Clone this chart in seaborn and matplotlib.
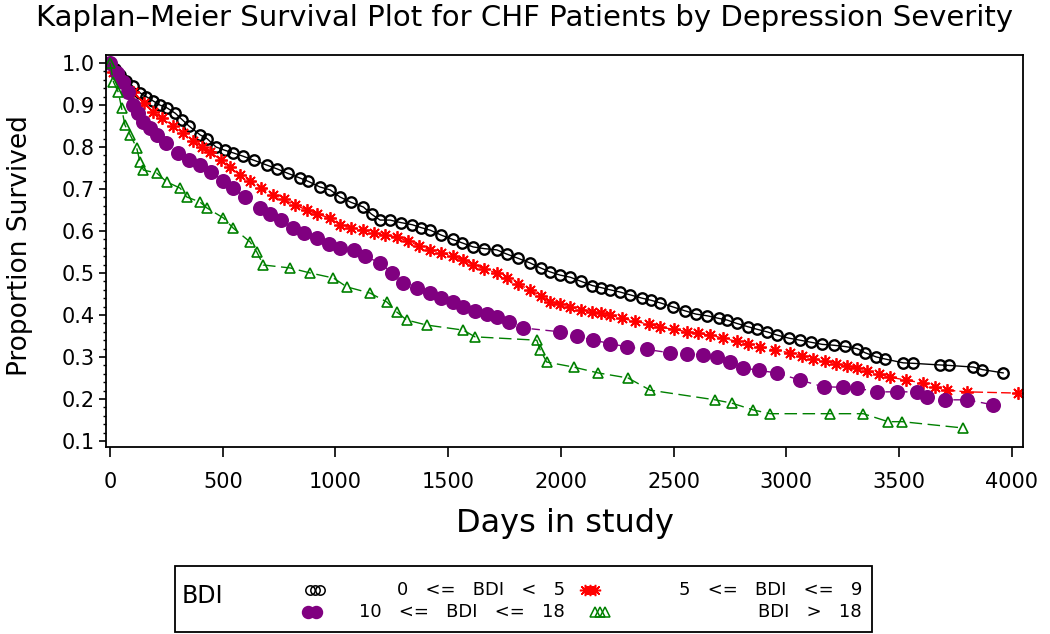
import numpy as np
import pandas as pd
import matplotlib
matplotlib.use("Agg")
import matplotlib.pyplot as plt
import seaborn as sns
from matplotlib.lines import Line2D
from matplotlib.patches import Rectangle
from matplotlib.ticker import MultipleLocator

sns.set_style("ticks")
plt.rcParams['font.family'] = ['DejaVu Sans']
plt.rcParams['text.color'] = 'black'
plt.rcParams['axes.labelcolor'] = 'black'
plt.rcParams['xtick.color'] = 'black'
plt.rcParams['ytick.color'] = 'black'

# Kaplan-Meier curves (days, proportion surviving)
black_days = [0, 20, 44, 70, 100, 133, 160, 190, 220, 253, 290, 320, 350, 399, 430, 470, 510,
              546, 590, 640, 695, 740, 790, 843, 880, 930, 976, 1020, 1070, 1124, 1160, 1198,
              1242, 1290, 1340, 1380, 1420, 1470, 1520, 1560, 1611, 1660, 1716, 1760, 1810,
              1863, 1910, 1950, 1996, 2041, 2090, 2140, 2180, 2218, 2260, 2307, 2360, 2400,
              2440, 2498, 2550, 2600, 2650, 2700, 2737, 2780, 2830, 2870, 2914, 2960, 3010,
              3061, 3110, 3160, 3210, 3260, 3314, 3350, 3400, 3440, 3519, 3560, 3683, 3720,
              3829, 3870, 3963]
black_surv = [1.0, 0.985, 0.971, 0.958, 0.945, 0.929, 0.92, 0.91, 0.90, 0.893, 0.88, 0.865,
              0.85, 0.829, 0.82, 0.80, 0.792, 0.786, 0.778, 0.768, 0.757, 0.748, 0.737, 0.726,
              0.718, 0.705, 0.698, 0.681, 0.668, 0.657, 0.64, 0.626, 0.626, 0.62, 0.615, 0.608,
              0.602, 0.59, 0.58, 0.572, 0.562, 0.558, 0.555, 0.545, 0.535, 0.524, 0.512, 0.503,
              0.495, 0.49, 0.48, 0.47, 0.465, 0.46, 0.455, 0.448, 0.44, 0.435, 0.429, 0.419,
              0.41, 0.402, 0.398, 0.392, 0.388, 0.38, 0.372, 0.366, 0.36, 0.352, 0.345, 0.34,
              0.335, 0.33, 0.328, 0.325, 0.32, 0.31, 0.30, 0.295, 0.286, 0.285, 0.281, 0.28,
              0.276, 0.27, 0.262]

red_days = [0, 13, 50, 102, 150, 191, 230, 280, 324, 370, 410, 444, 490, 530, 577, 620, 670,
            725, 770, 820, 873, 920, 976, 1020, 1070, 1124, 1170, 1220, 1272, 1320, 1370, 1420,
            1470, 1520, 1567, 1610, 1660, 1716, 1760, 1810, 1863, 1910, 1950, 1996, 2041, 2090,
            2140, 2180, 2218, 2270, 2330, 2390, 2440, 2500, 2560, 2610, 2662, 2720, 2780, 2830,
            2884, 2950, 3017, 3070, 3120, 3170, 3220, 3270, 3314, 3360, 3410, 3461, 3530, 3607,
            3660, 3713, 3802, 4029]
red_surv = [1.0, 0.979, 0.96, 0.931, 0.905, 0.883, 0.87, 0.85, 0.833, 0.815, 0.80, 0.788, 0.77,
            0.752, 0.733, 0.72, 0.703, 0.686, 0.675, 0.662, 0.65, 0.64, 0.631, 0.614, 0.608,
            0.602, 0.596, 0.59, 0.586, 0.576, 0.565, 0.555, 0.548, 0.54, 0.531, 0.52, 0.51, 0.5,
            0.487, 0.473, 0.46, 0.445, 0.432, 0.425, 0.419, 0.413, 0.408, 0.404, 0.40, 0.392,
            0.385, 0.378, 0.371, 0.366, 0.36, 0.356, 0.352, 0.345, 0.337, 0.33, 0.324, 0.316,
            0.31, 0.303, 0.296, 0.29, 0.284, 0.279, 0.274, 0.266, 0.259, 0.252, 0.245, 0.238,
            0.228, 0.221, 0.217, 0.214]

purple_days = [0, 30, 58, 80, 102, 125, 146, 175, 209, 250, 300, 350, 399, 450, 500, 546, 600,
               666, 710, 760, 813, 860, 917, 970, 1020, 1080, 1130, 1198, 1250, 1300, 1360,
               1420, 1470, 1520, 1567, 1620, 1670, 1716, 1770, 1834, 1996, 2070, 2144, 2220,
               2292, 2380, 2484, 2560, 2630, 2692, 2750, 2810, 2880, 2958, 3061, 3165, 3250,
               3314, 3402, 3491, 3579, 3625, 3704, 3802, 3918]
purple_surv = [1.0, 0.975, 0.955, 0.93, 0.9, 0.88, 0.86, 0.845, 0.829, 0.81, 0.785, 0.77, 0.757,
               0.74, 0.72, 0.702, 0.68, 0.655, 0.64, 0.625, 0.607, 0.595, 0.583, 0.57, 0.56,
               0.555, 0.54, 0.524, 0.50, 0.476, 0.465, 0.452, 0.44, 0.43, 0.419, 0.41, 0.402,
               0.395, 0.383, 0.369, 0.36, 0.35, 0.34, 0.332, 0.324, 0.318, 0.31, 0.308, 0.305,
               0.30, 0.287, 0.274, 0.268, 0.262, 0.245, 0.229, 0.228, 0.226, 0.217, 0.217,
               0.217, 0.205, 0.198, 0.198, 0.186]

green_days = [0, 15, 37, 51, 66, 89, 118, 133, 148, 207, 251, 311, 340, 399, 429, 503, 546, 621,
              651, 680, 799, 888, 991, 1050, 1154, 1228, 1272, 1316, 1405, 1567, 1619, 1893,
              1908, 1937, 2056, 2166, 2298, 2396, 2684, 2759, 2853, 2928, 3194, 3341, 3452,
              3514, 3784]
green_surv = [1.0, 0.955, 0.93, 0.893, 0.852, 0.829, 0.798, 0.764, 0.745, 0.738, 0.717, 0.702,
              0.681, 0.669, 0.655, 0.631, 0.607, 0.574, 0.55, 0.519, 0.512, 0.50, 0.488, 0.467,
              0.452, 0.431, 0.407, 0.388, 0.376, 0.364, 0.348, 0.34, 0.317, 0.288, 0.276, 0.262,
              0.25, 0.221, 0.198, 0.19, 0.174, 0.165, 0.165, 0.165, 0.146, 0.146, 0.131]

group_labels = ['0   <=   BDI   <   5', '5   <=   BDI   <=   9',
                '10   <=   BDI   <=   18', 'BDI   >   18']

fig = plt.figure(figsize=(10.5, 6.34), dpi=100)
ax = fig.add_axes([106 / 1050, 1 - 447 / 634, 917 / 1050, 392 / 634])

# style for each group: colour, marker, line dashes, marker size, marker fill, edge width
styles = [
    ('#000000', 'o', (None, None), 7.5, 'none', 1.7),
    ('#ff0000', (8, 2, 0), (7, 3), 9, '#ff0000', 1.3),
    ('#800080', 'o', (6, 4), 9.5, '#800080', 1.3),
    ('#008000', '^', (9, 4), 7.5, 'none', 1.2),
]
all_data = [(black_days, black_surv), (red_days, red_surv),
            (purple_days, purple_surv), (green_days, green_surv)]

for (days, surv), (col, mk, dash, ms, mfc, mew) in zip(all_data, styles):
    df = pd.DataFrame({'days': days, 'surv': surv})
    line_kw = dict(color=col, marker=mk, markersize=ms, markerfacecolor=mfc,
                   markeredgecolor=col, markeredgewidth=mew, linewidth=1.0)
    if dash[0] is not None:
        line_kw['dashes'] = dash
    sns.lineplot(data=df, x='days', y='surv', ax=ax, estimator=None, sort=False,
                 legend=False, **line_kw)

ax.set_xlim(-18, 4050)
ax.set_ylim(0.0857, 1.019)
ax.set_xticks(np.arange(0, 4001, 500))
ax.set_yticks(np.arange(0.1, 1.01, 0.1))
ax.set_yticklabels([f'{v:.1f}' for v in np.arange(0.1, 1.01, 0.1)])
ax.yaxis.set_minor_locator(MultipleLocator(0.02))
ax.tick_params(axis='y', which='major', labelsize=15, length=5, width=1.2, pad=3)
ax.tick_params(axis='y', which='minor', length=2.5, width=1.0)
ax.tick_params(axis='x', which='major', labelsize=15, length=7, width=1.2, pad=11)
for sp in ax.spines.values():
    sp.set_visible(True)
    sp.set_linewidth(1.3)
    sp.set_color('black')

ax.set_xlabel('Days in study', fontsize=23)
ax.xaxis.set_label_coords(0.5, -0.194)
ax.xaxis.label.set_va('center')
ax.set_ylabel('Proportion Survived', fontsize=19)
ax.yaxis.set_label_coords(-0.094, 0.515)
ax.yaxis.label.set_va('center')

fig.text(0.5, 1 - 18 / 634, 'Kaplan–Meier Survival Plot for CHF Patients by Depression Severity',
         ha='center', va='center', fontsize=21)

# legend box drawn below the axes
fig.add_artist(Rectangle((175 / 1050, 2 / 634), 697 / 1050, 66 / 634, transform=fig.transFigure,
                         fill=False, edgecolor='black', linewidth=1.3))
fig.text(182 / 1050, 1 - 596 / 634, 'BDI', ha='left', va='center', fontsize=17)

# legend glyphs are small clusters of markers, as in the original
legend_pos = [(315, 590, 565), (590, 590, 862), (312, 612, 565), (600, 612, 862)]
cluster_offsets = [(-5, 0, 5), (-5, 0, 5), (-4, 4), (-5, 0, 5)]
for (mx, my, tx), lab, (col, mk, dash, ms, mfc, mew), offs in zip(legend_pos, group_labels,
                                                                    styles, cluster_offsets):
    fy = 1 - my / 634
    fig.add_artist(Line2D([(mx + o) / 1050 for o in offs], [fy] * len(offs),
                          transform=fig.transFigure, linestyle='none',
                          marker=mk, markersize=ms * 0.9, markerfacecolor=mfc,
                          markeredgecolor=col, markeredgewidth=1.1))
    fig.text(tx / 1050, fy, lab, ha='right', va='center', fontsize=13)

fig.savefig('out.png', dpi=100)
